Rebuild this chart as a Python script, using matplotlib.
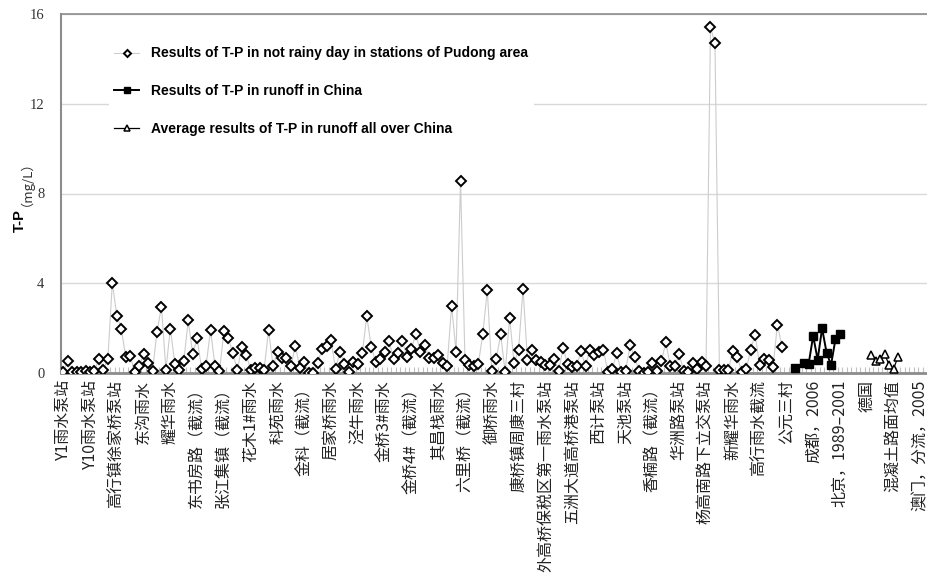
import numpy as np
import matplotlib.pyplot as plt
from matplotlib.ticker import FixedLocator

# station names, one label for every 6th category on the x axis
stations = [
    "Y1雨水泵站", "Y10雨水泵站", "高行镇徐家桥泵站", "东沟雨水", "耀华雨水",
    "东书房路（截流）", "张江集镇（截流）", "花木1#雨水", "科苑雨水", "金科（截流）",
    "居家桥雨水", "泾牛雨水", "金桥3#雨水", "金桥4#（截流）", "其昌栈雨水",
    "六里桥（截流）", "御桥雨水", "康桥镇周康三村", "外高桥保税区第一雨水泵站",
    "五洲大道高桥港泵站", "西计泵站", "天池泵站", "香楠路（截流）", "华洲路泵站",
    "杨高南路下立交泵站", "新耀华雨水", "高行雨水截流", "公元三村",
    "成都，2006", "北京，1989–2001", "德国", "混凝土路面均值", "澳门，分流，2005",
]
label_step = 6
n_cat = 194

# T-P (mg/L), Pudong stations on non-rainy days, starting at category 0
pudong_tp = [
    0.06, 0.54, 0.06, 0.05, 0.03, 0.09, 0.06, 0.08, 0.63, 0.14,
    0.63, 4.02, 2.55, 1.98, 0.71, 0.77, 0.06, 0.29, 0.83, 0.45,
    0.08, 1.83, 2.96, 0.15, 1.98, 0.42, 0.15, 0.53, 2.34, 0.86,
    1.54, 0.18, 0.33, 1.92, 0.30, 0.08, 1.86, 1.55, 0.89, 0.12,
    1.15, 0.80, 0.14, 0.24, 0.24, 0.14, 1.92, 0.30, 0.95, 0.65,
    0.65, 0.29, 1.22, 0.23, 0.48, 0.02, 0.02, 0.45, 1.07, 1.22,
    1.45, 0.18, 0.95, 0.41, 0.05, 0.48, 0.41, 0.88, 2.54, 1.16,
    0.50, 0.62, 0.95, 1.42, 0.62, 0.88, 1.42, 0.71, 1.09, 1.75,
    0.94, 1.24, 0.68, 0.68, 0.82, 0.45, 0.30, 3.00, 0.94, 8.55,
    0.57, 0.36, 0.30, 0.41, 1.75, 3.70, 0.09, 0.63, 1.72, 0.03,
    2.46, 0.44, 1.04, 3.76, 0.57, 1.01, 0.60, 0.47, 0.36, 0.36,
    0.63, 0.11, 1.13, 0.38, 0.27, 0.32, 0.97, 0.30, 1.04, 0.78,
    0.95, 1.04, 0.05, 0.18, 0.89, 0.03, 0.11, 1.24, 0.71, 0.09,
    0.01, 0.06, 0.45, 0.09, 0.53, 1.37, 0.32, 0.32, 0.83, 0.08,
    0.03, 0.45, 0.20, 0.48, 0.32, 15.4, 14.7, 0.15, 0.15, 0.12,
    1.00, 0.71, 0.06, 0.17, 1.04, 1.71, 0.36, 0.63, 0.57, 0.26,
    2.16, 1.16,
]
pudong_start = 0

# runoff results reported for Chinese cities
china_tp = [0.24, np.nan, 0.45, 0.42, 1.66, 0.59, 1.99, 0.91, 0.36, 1.51, 1.72]
china_start = 164

# averages of runoff all over China
avg_tp = [0.78, 0.53, 0.63, 0.85, 0.36, 0.18, 0.72]
avg_start = 181


def on_axis(values, start):
    y = np.full(n_cat, np.nan)
    y[start:start + len(values)] = values
    return y


x = np.arange(n_cat)
series = [
    (on_axis(pudong_tp, pudong_start),
     dict(color="#cccccc", lw=0.8, marker="D", ms=4.8, mfc="white", mec="black", mew=1.4),
     "Results of T-P in not rainy day in stations of Pudong area"),
    (on_axis(china_tp, china_start),
     dict(color="black", lw=1.4, marker="s", ms=6, mfc="black", mec="black"),
     "Results of T-P in runoff in China"),
    (on_axis(avg_tp, avg_start),
     dict(color="black", lw=0.9, marker="^", ms=5.5, mfc="white", mec="black", mew=1.1),
     "Average results of T-P in runoff all over China"),
]

fig = plt.figure(figsize=(9.28, 5.84), dpi=100)
ax = fig.add_axes([61 / 928, 211 / 584, 866 / 928, 359 / 584])

for y, style, label in series:
    m = ~np.isnan(y)  # join points across blank cells
    ax.plot(x[m], y[m], label=label, zorder=3, **style)

ax.set_xlim(-0.5, n_cat - 0.5)
ax.set_ylim(0, 16)
ax.set_yticks([0, 4, 8, 12, 16])
ax.yaxis.grid(True, color="#d9d9d9", lw=1.0)
ax.set_axisbelow(True)

for side in ["left", "top", "bottom"]:
    ax.spines[side].set_color("#8c8c8c")
ax.spines["left"].set_linewidth(1.5)
ax.spines["bottom"].set_linewidth(2.0)
ax.spines["top"].set_linewidth(1.2)
ax.spines["right"].set_visible(False)

ax.tick_params(axis="y", length=0, pad=12, labelsize=10.5, labelcolor="#333333")
for t in ax.get_yticklabels():
    t.set_fontfamily("Liberation Serif")

ax.xaxis.set_major_locator(FixedLocator(np.arange(0, n_cat, label_step)[:len(stations)]))
ax.set_xticklabels(stations, rotation=90, va="top", ha="center",
                   fontfamily=["Noto Sans CJK SC", "DejaVu Sans"], fontsize=11.5,
                   color="#222222")
ax.xaxis.set_minor_locator(FixedLocator(np.arange(n_cat) - 0.5))
ax.tick_params(axis="x", which="major", length=0, pad=5)
ax.tick_params(axis="x", which="minor", direction="in", length=4, color="#c0c0c0", width=0.8)

fig.text(20 / 928, 1 - 232 / 584, "T-P", rotation=90, ha="center", va="bottom",
         fontsize=10.5, fontweight="bold", fontfamily="Liberation Sans")
fig.text(20 / 928, 1 - 206 / 584, "（mg/L）", rotation=90, ha="center", va="bottom",
         fontsize=9.5, fontfamily=["Noto Sans CJK SC", "DejaVu Sans"], color="#333333")

leg = ax.legend(loc="upper left", bbox_to_anchor=(0.055, 0.925), borderaxespad=0,
                frameon=True, facecolor="white", edgecolor="none", framealpha=1,
                fancybox=False, handlelength=1.8, handletextpad=0.85,
                labelspacing=1.7, borderpad=0.4, markerscale=0.75,
                prop=dict(family="Liberation Sans", weight="bold", size=10))
leg.set_zorder(5)

fig.savefig("out.png", dpi=100)
